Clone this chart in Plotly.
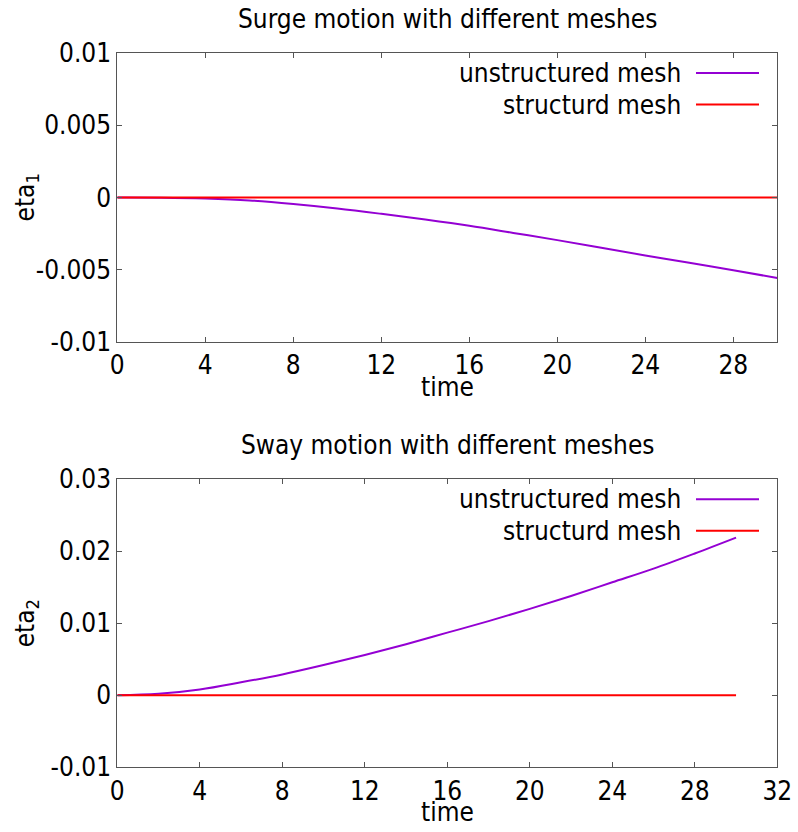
import plotly.graph_objects as go

# ---- data ----
time_surge = [0, 2, 4, 6, 8, 10, 12, 14, 16, 18, 20, 22, 24, 26, 28, 30]
surge_unstructured = [0, -0.00001, -0.00007, -0.0002, -0.00045, -0.00076, -0.00113, -0.00153,
                      -0.00196, -0.00245, -0.00295, -0.00348, -0.00401, -0.00452, -0.00503, -0.00557]
surge_structured = [0] * len(time_surge)

time_sway = [0, 2, 4, 6, 8, 10, 12, 14, 16, 18, 20, 22, 24, 26, 28, 30]
sway_unstructured = [0, 0.0002, 0.0008, 0.0018, 0.0029, 0.0042, 0.0056, 0.0071,
                     0.0087, 0.0103, 0.0120, 0.0138, 0.0157, 0.0176, 0.0197, 0.0219]
sway_structured = [0] * len(time_sway)

series_names = ["unstructured mesh", "structurd mesh"]
titles = ["Surge motion with different meshes", "Sway motion with different meshes"]
ylabels = ["eta<sub>1</sub>", "eta<sub>2</sub>"]
xlabel = "time"

top_xticks = [0, 4, 8, 12, 16, 20, 24, 28]
bot_xticks = [0, 4, 8, 12, 16, 20, 24, 28, 32]
top_yticks = [-0.01, -0.005, 0, 0.005, 0.01]
top_yticklabels = ["-0.01", "-0.005", "0", "0.005", "0.01"]
bot_yticks = [-0.01, 0, 0.01, 0.02, 0.03]
bot_yticklabels = ["-0.01", "0", "0.01", "0.02", "0.03"]

# ---- style ----
W, H = 798, 832
FONT = "DejaVu Sans Condensed, Liberation Sans, Arial, sans-serif"
FS = 26
C_UN = "#9400D3"
C_ST = "#FF0000"
AX = "#555555"

def px(x):
    return x / W

def py(y):
    return 1 - y / H

x_dom = [px(117.3), px(777.3)]
top_dom = [py(342), py(53)]
bot_dom = [py(767.3), py(479.3)]

fig = go.Figure()
fig.add_trace(go.Scatter(x=time_surge, y=surge_unstructured, mode="lines", line=dict(color=C_UN, width=2),
                         name=series_names[0], xaxis="x", yaxis="y", line_shape="spline"))
fig.add_trace(go.Scatter(x=time_surge, y=surge_structured, mode="lines", line=dict(color=C_ST, width=2),
                         name=series_names[1], xaxis="x", yaxis="y"))
fig.add_trace(go.Scatter(x=time_sway, y=sway_unstructured, mode="lines", line=dict(color=C_UN, width=2),
                         name=series_names[0], xaxis="x2", yaxis="y2", line_shape="spline"))
fig.add_trace(go.Scatter(x=time_sway, y=sway_structured, mode="lines", line=dict(color=C_ST, width=2),
                         name=series_names[1], xaxis="x2", yaxis="y2"))

axis_common = dict(showline=True, linecolor=AX, linewidth=1, mirror="allticks", ticks="inside",
                   ticklen=5, tickcolor=AX, showgrid=False, zeroline=False, automargin=False,
                   tickfont=dict(family=FONT, size=FS, color="black"))

fig.update_layout(
    width=W, height=H, template="none",
    margin=dict(l=0, r=0, t=0, b=0),
    paper_bgcolor="white", plot_bgcolor="white",
    showlegend=False,
    font=dict(family=FONT, size=FS, color="black"),
    xaxis=dict(domain=x_dom, anchor="y", range=[0, 30], tickvals=top_xticks, **axis_common),
    yaxis=dict(domain=top_dom, anchor="x", range=[-0.01, 0.01], tickvals=top_yticks,
               ticktext=top_yticklabels, **axis_common),
    xaxis2=dict(domain=x_dom, anchor="y2", range=[0, 32], tickvals=bot_xticks, **axis_common),
    yaxis2=dict(domain=bot_dom, anchor="x2", range=[-0.01, 0.03], tickvals=bot_yticks,
                ticktext=bot_yticklabels, **axis_common),
)

ann = []
shapes = []
for i, (title_y, plot_top, plot_bot) in enumerate([(19, 53, 342), (445, 479.3, 767.3)]):
    ann.append(dict(text=titles[i], x=px(447), y=py(title_y), xref="paper", yref="paper",
                    xanchor="center", yanchor="middle", showarrow=False,
                    font=dict(family=FONT, size=FS, color="black")))
    ann.append(dict(text=xlabel, x=px(447), y=py(plot_bot + 45), xref="paper", yref="paper",
                    xanchor="center", yanchor="middle", showarrow=False,
                    font=dict(family=FONT, size=FS, color="black")))
    ann.append(dict(text=ylabels[i], x=px(26), y=py((plot_top + plot_bot) / 2), xref="paper", yref="paper",
                    xanchor="center", yanchor="middle", showarrow=False, textangle=-90,
                    font=dict(family=FONT, size=FS, color="black")))
    # legend
    for j, col in enumerate([C_UN, C_ST]):
        ly = plot_top + 20 + j * 31.5
        ann.append(dict(text=series_names[j], x=px(683), y=py(ly), xref="paper", yref="paper",
                        xanchor="right", yanchor="middle", showarrow=False,
                        font=dict(family=FONT, size=FS, color="black")))
        shapes.append(dict(type="line", xref="paper", yref="paper", x0=px(696), x1=px(759),
                           y0=py(ly), y1=py(ly), line=dict(color=col, width=2)))

fig.update_layout(annotations=ann, shapes=shapes)
fig.write_html("out.html")
